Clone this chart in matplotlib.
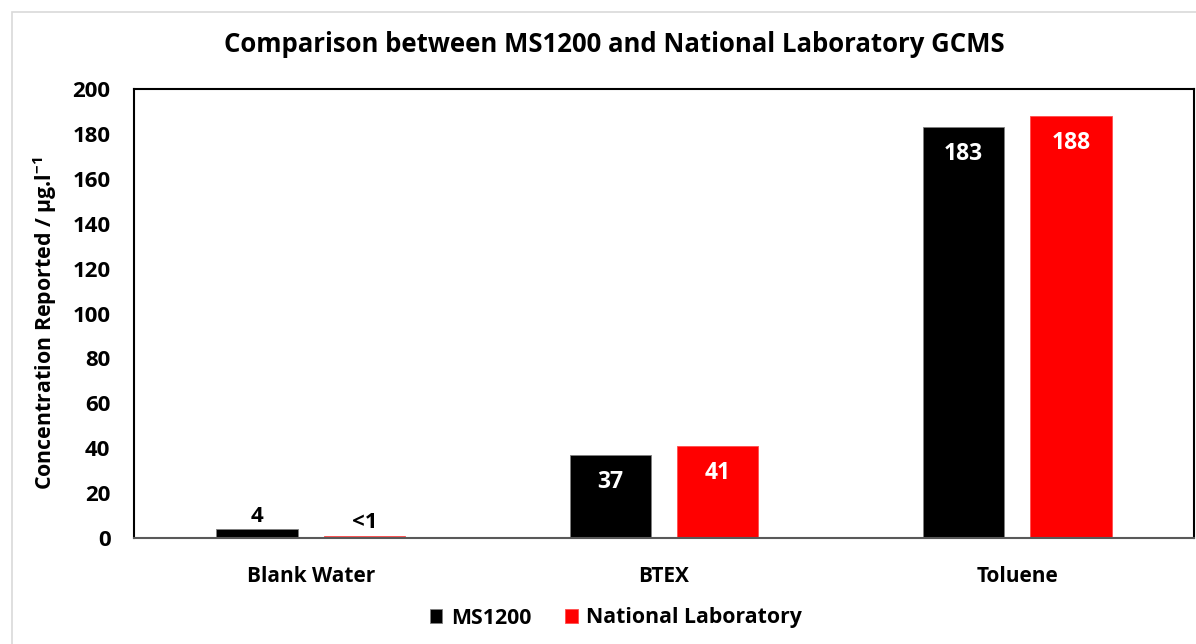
import matplotlib
matplotlib.use("Agg")
import matplotlib.pyplot as plt
from matplotlib.patches import Rectangle
import numpy as np

categories = ["Blank Water", "BTEX", "Toluene"]
series_names = ["MS1200", "National Laboratory"]
ms1200 = [4, 37, 183]
natlab = [1, 41, 188]
ms1200_labels = ["4", "37", "183"]
natlab_labels = ["<1", "41", "188"]
yticks = [0, 20, 40, 60, 80, 100, 120, 140, 160, 180, 200]

plt.rcParams['font.family'] = ['Open Sans', 'DejaVu Sans']
plt.rcParams['font.weight'] = 'bold'
plt.rcParams['mathtext.fontset'] = 'custom'
plt.rcParams['mathtext.bf'] = 'Open Sans:bold'
plt.rcParams['mathtext.rm'] = 'Open Sans:bold'

fig = plt.figure(figsize=(11.96, 6.44), dpi=100)
fig.patches.append(Rectangle((12/1196, -0.1), 1.2, (644-12)/644 + 0.1,
                             transform=fig.transFigure, fill=False,
                             edgecolor='#d9d9d9', lw=1.2, clip_on=False))
ax = fig.add_axes([134/1196, (644-538)/644, (1194-134)/1196, (538-89)/644])

x = np.arange(len(categories))
w = 0.23
off = 0.152
b1 = ax.bar(x - off, ms1200, w, color='black', edgecolor='#7f7f7f', lw=0.6, label=series_names[0])
b2 = ax.bar(x + off, natlab, w, color='#ff0000', edgecolor='#ff4d4d', lw=0.6, label=series_names[1])

def label_bars(bars, labels):
    for bar, lab in zip(bars, labels):
        h = bar.get_height()
        cx = bar.get_x() + bar.get_width()/2
        if h < 20:
            ax.annotate(lab, (cx, h), xytext=(0, 13), textcoords='offset pixels',
                        ha='center', va='center', fontsize=16, fontweight='bold', color='black')
        else:
            ax.annotate(lab, (cx, h), xytext=(0, -27), textcoords='offset pixels',
                        ha='center', va='center', fontsize=16.5, fontweight='bold', color='white')

label_bars(b1, ms1200_labels)
label_bars(b2, natlab_labels)

ax.set_xlim(-0.5, 2.5)
ax.set_ylim(0, 200)
ax.set_yticks(yticks)
ax.set_yticklabels([str(t) for t in yticks], fontsize=16, fontweight='bold')
ax.set_xticks(x)
ax.set_xticklabels(categories, fontsize=15, fontweight='bold')
ax.tick_params(axis='both', length=0)
ax.tick_params(axis='y', pad=17)
ax.tick_params(axis='x', pad=20)
for s in ['left', 'top', 'right']:
    ax.spines[s].set_color('black')
    ax.spines[s].set_linewidth(1.5)
ax.spines['bottom'].set_color('#595959')
ax.spines['bottom'].set_linewidth(1.5)

fig.text(45/1196, 1 - 323/644, "Concentration Reported / μg.l$^{\\mathbf{-1}}$",
         rotation=90, ha='center', va='center', fontsize=15.4, fontweight='bold')
fig.text(0.514, 1 - 45/644, "Comparison between MS1200 and National Laboratory GCMS",
         ha='center', va='center', fontsize=18.5, fontweight='bold')

fig.legend(handles=[b1, b2], labels=series_names, loc='center', bbox_to_anchor=(0.515, 1 - 618/644),
           ncol=2, frameon=False, fontsize=15.3, handlelength=0.6, handleheight=0.6,
           handletextpad=0.4, columnspacing=1.6)

fig.savefig("out.png", dpi=100)
